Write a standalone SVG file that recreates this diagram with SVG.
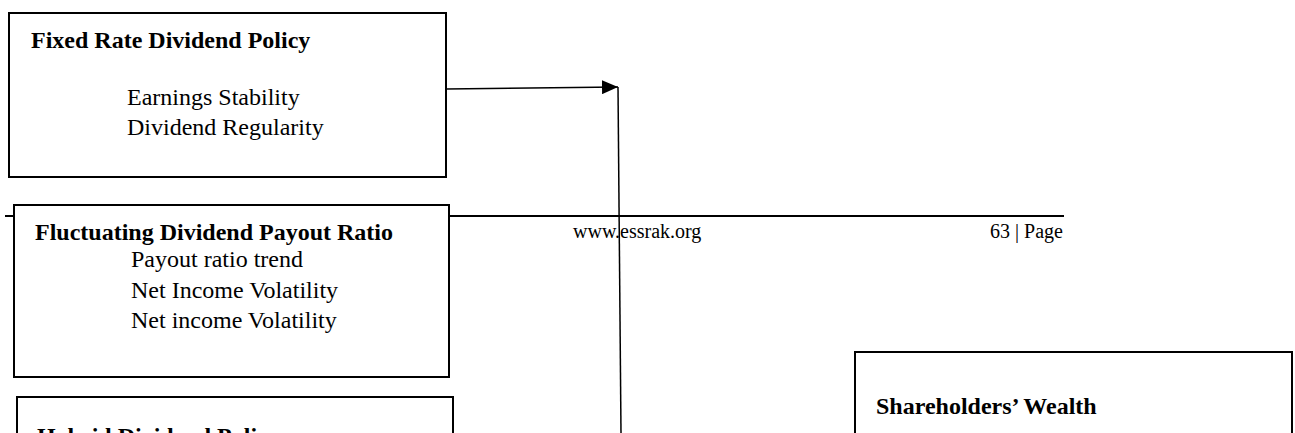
<svg xmlns="http://www.w3.org/2000/svg" width="1295" height="433" viewBox="0 0 1295 433">
<style>
.box{fill:#fff;stroke:#000;stroke-width:2}
.t{font-family:"Liberation Serif","Times New Roman",serif;font-size:24px;fill:#000}
.b{font-weight:bold}
.f{font-family:"Liberation Serif","Times New Roman",serif;font-size:20px;fill:#000}
.c{stroke:#000;stroke-width:1.5;fill:none}
</style>
<defs>
<marker id="ah" markerUnits="userSpaceOnUse" markerWidth="16" markerHeight="14" refX="16" refY="7" orient="auto">
<path d="M0,0 L16,7 L0,14 Z" fill="#000"/>
</marker>
</defs>
<g id="footer">
<line x1="5" y1="216" x2="1064" y2="216" stroke="#000" stroke-width="2"/>
<text class="f" x="573" y="238">www.essrak.org</text>
<text class="f" x="1063" y="238" text-anchor="end">63 | Page</text>
</g>
<g id="fixed-rate">
<rect class="box" x="9" y="13" width="437" height="164"/>
<text class="t b" x="31" y="48">Fixed Rate Dividend Policy</text>
<text class="t" x="127" y="105">Earnings Stability</text>
<text class="t" x="127" y="135">Dividend Regularity</text>
</g>
<g id="fluctuating">
<rect class="box" x="14" y="205" width="435" height="172"/>
<text class="t b" x="35" y="240">Fluctuating Dividend Payout Ratio</text>
<text class="t" x="131" y="267">Payout ratio trend</text>
<text class="t" x="131" y="298">Net Income Volatility</text>
<text class="t" x="131" y="328">Net income Volatility</text>
</g>
<g id="hybrid">
<rect class="box" x="17" y="397" width="436" height="60"/>
<text class="t b" x="37" y="444">Hybrid Dividend Policy</text>
</g>
<g id="shareholders">
<rect class="box" x="855" y="352" width="437" height="100"/>
<text class="t b" x="876" y="414">Shareholders’ Wealth</text>
</g>
<g id="connectors">
<line class="c" x1="446" y1="89" x2="618" y2="87" marker-end="url(#ah)"/>
<line class="c" x1="618" y1="87" x2="621" y2="433"/>
</g>
</svg>
